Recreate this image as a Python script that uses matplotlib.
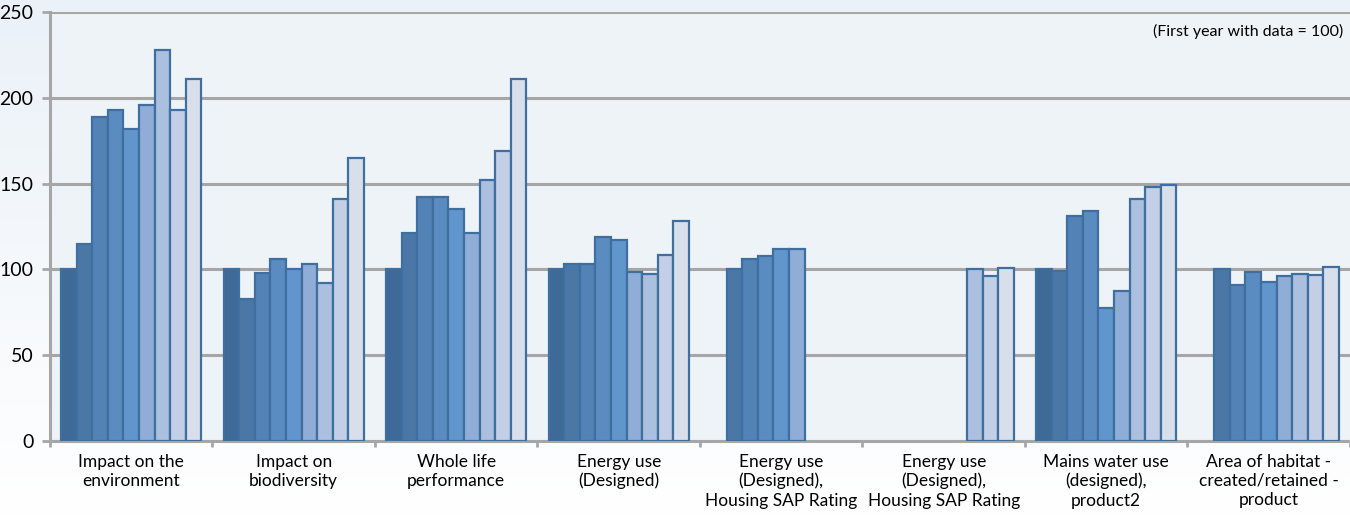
import matplotlib
matplotlib.use("Agg")
import matplotlib.pyplot as plt
import numpy as np

plt.rcParams['font.family'] = ['Lato', 'DejaVu Sans']

categories = ['Impact on the\nenvironment', 'Impact on\nbiodiversity', 'Whole life\nperformance',
              'Energy use\n(Designed)', 'Energy use\n(Designed),\nHousing SAP Rating',
              'Energy use\n(Designed),\nHousing SAP Rating', 'Mains water use\n(designed),\nproduct2',
              'Area of habitat -\ncreated/retained -\nproduct']

# one list per year (series); None = no data for that year
s0 = [100, 100, 100, 100, None, None, 100, None]
s1 = [115, 83, 121, 103, 100, None, 99, 100]
s2 = [189, 98, 142, 103, 106, None, 131, 91]
s3 = [193, 106, 142, 119, 108, None, 134, 98.5]
s4 = [182, 100, 135, 117, 112, None, 77.5, 92.5]
s5 = [196, 103, 121, 98.5, 112, None, 87.5, 96]
s6 = [228, 92, 152, 97.5, None, 100, 141, 97.5]
s7 = [193, 141, 169, 108.5, None, 96, 148, 96.5]
s8 = [211, 165, 211, 128.5, None, 101, 149, 101.5]
series = [s0, s1, s2, s3, s4, s5, s6, s7, s8]

colors = ['#3d6a96', '#4a77a6', '#5282b6', '#5a8cc2', '#6196cc',
          '#8fadd6', '#abbfdf', '#c3cfe6', '#d8dfeb']

fig = plt.figure(figsize=(13.5, 5.16), dpi=100)
# soft background gradient
grad = np.linspace(0, 1, 256).reshape(-1, 1)
bg = fig.add_axes([0, 0, 1, 1], zorder=-10)
bg.imshow(grad, aspect='auto', extent=[0, 1, 0, 1],
          cmap=matplotlib.colors.LinearSegmentedColormap.from_list('bg', ['#eaf1f8', '#ffffff']))
bg.axis('off')

ax = fig.add_axes([0.037, 0.1453, 0.963, 0.8314])
ax.set_facecolor('#eef3f8')

x = np.arange(len(categories))
w = 0.0959
for i, s in enumerate(series):
    for j, v in enumerate(s):
        if v is None:
            continue
        ax.bar(x[j] + (i - 4) * w, v, width=w, color=colors[i],
               edgecolor='#3f6f9f', linewidth=1.6, zorder=3)

ax.set_xlim(-0.5, len(categories) - 0.5)
ax.set_ylim(0, 250)
ax.set_yticks([0, 50, 100, 150, 200, 250])
ax.yaxis.grid(True, color='#a6a6a6', linewidth=2.2, zorder=0)
ax.tick_params(axis='y', length=6, width=2, color='#a6a6a6', labelsize=14, pad=6)

ax.set_xticks(np.arange(-0.5, len(categories), 1))
ax.set_xticklabels([])
ax.tick_params(axis='x', which='major', length=4, width=2, color='#a6a6a6')
ax.set_xticks(x, minor=True)
ax.set_xticklabels(categories, minor=True, fontsize=12.5, linespacing=1.25)
ax.tick_params(axis='x', which='minor', length=0, pad=9)

for side in ['top', 'right']:
    ax.spines[side].set_visible(False)
for side in ['left', 'bottom']:
    ax.spines[side].set_color('#a6a6a6')
    ax.spines[side].set_linewidth(2.2)

ax.text(0.995, 0.955, '(First year with data = 100)', transform=ax.transAxes,
        ha='right', va='center', fontsize=11.5)

fig.savefig('out.png', dpi=100)
